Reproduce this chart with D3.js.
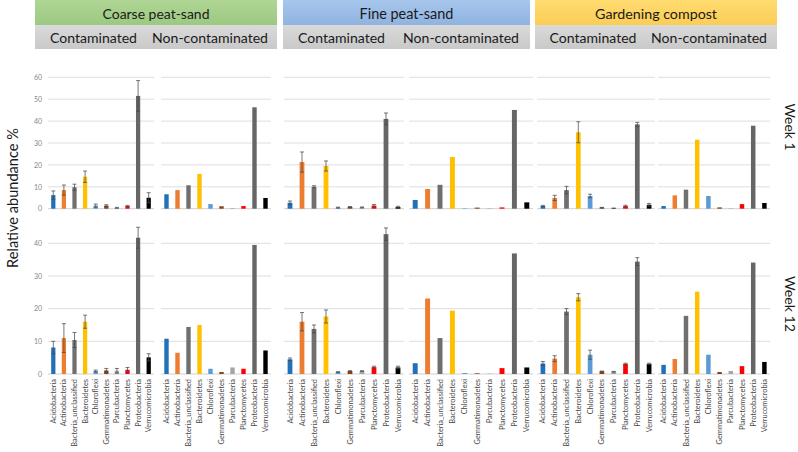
<!DOCTYPE html>
<html><head><meta charset="utf-8">
<script src="https://cdn.jsdelivr.net/npm/d3@7"></script>
<style>body{margin:0;background:#fff}svg{display:block;font-family:Lato,"Open Sans",sans-serif}</style>
</head><body>
<svg id="c" width="798" height="452"></svg>
<script>
// ---------- data ----------
const phyla = ["Acidobacteria","Actinobacteria","Bacteria_unclassified","Bacteroidetes","Chloroflexi","Gemmatimonadetes","Parcubacteria","Planctomycetes","Proteobacteria","Verrucomicrobia"];
const phylumColors = ["#2271b8","#ed7d31","#6f6f6f","#ffc000","#5b9bd5","#8a3f12","#a5a5a5","#ff0000","#666666","#000000"];
const soils = ["Coarse peat-sand","Fine peat-sand","Gardening compost"];
const treatments = ["Contaminated","Non-contaminated"];
const weeks = ["Week 1","Week 12"];
const week1Ticks = [0,10,20,30,40,50,60];
const week12Ticks = [0,10,20,30,40];

// Week 1
const w1CoarseCont    = [6.2, 8.5, 9.8, 14.6, 1.4, 1.4, 0.4, 1.2, 51.5, 5.0];
const w1CoarseContErr = [1.9, 2.3, 1.4, 2.6, 0.7, 0.4, 0.2, 0.3, 7.0, 2.3];
const w1CoarseNon     = [6.6, 8.5, 10.7, 15.9, 2.1, 1.1, 0.3, 1.2, 46.3, 4.9];
const w1FineCont      = [2.7, 21.3, 10.0, 19.5, 0.5, 0.8, 0.6, 1.4, 41.0, 0.8];
const w1FineContErr   = [0.8, 4.6, 0.5, 2.3, 0.2, 0.2, 0.2, 0.5, 2.7, 0.3];
const w1FineNon       = [4.0, 9.0, 10.9, 23.6, 0.2, 0.5, 0.2, 0.6, 45.1, 2.9];
const w1GardCont      = [1.2, 4.9, 8.5, 34.9, 5.8, 0.5, 0.2, 1.2, 38.5, 1.8];
const w1GardContErr   = [0.3, 1.2, 1.7, 4.8, 0.8, 0.1, 0.1, 0.4, 0.9, 0.6];
const w1GardNon       = [1.2, 6.1, 8.7, 31.5, 5.8, 0.6, 0.2, 2.1, 37.9, 2.6];
// Week 12
const w12CoarseCont    = [8.1, 11.0, 10.4, 16.0, 0.9, 1.1, 1.0, 1.3, 41.7, 5.1];
const w12CoarseContErr = [1.9, 4.4, 2.3, 2.0, 0.3, 0.6, 0.7, 0.7, 3.2, 1.1];
const w12CoarseNon     = [10.8, 6.5, 14.4, 15.0, 1.6, 0.6, 2.0, 1.6, 39.5, 7.2];
const w12FineCont      = [4.5, 16.0, 13.8, 17.6, 0.6, 0.9, 0.9, 2.1, 42.8, 2.0];
const w12FineContErr   = [0.4, 2.8, 1.2, 2.0, 0.1, 0.1, 0.1, 0.3, 1.9, 0.4];
const w12FineNon       = [3.3, 23.1, 11.0, 19.4, 0.3, 0.2, 0.1, 1.8, 36.9, 2.0];
const w12GardCont      = [3.2, 4.7, 19.1, 23.5, 5.9, 0.8, 0.7, 3.1, 34.4, 3.1];
const w12GardContErr   = [0.6, 0.9, 0.9, 1.1, 1.4, 0.1, 0.1, 0.2, 1.2, 0.2];
const w12GardNon       = [2.8, 4.6, 17.8, 25.2, 5.9, 0.6, 0.9, 2.4, 34.1, 3.7];

// ---------- layout ----------
const svg = d3.select("#c");
function fitText(sel, target) {
  sel.each(function(){
    const fs = parseFloat(d3.select(this).attr("font-size"));
    const w = this.getComputedTextLength();
    if (w > 0) d3.select(this).attr("font-size", (fs*target/w).toFixed(2));
  });
}
const panelX = [[48,154],[161,271],[284,404],[409,533],[537,655],[658,770]];
const rows = [
  {ticks: week1Ticks, domain:[0,60], range:[208.7,77.3],
   panels:[[w1CoarseCont,w1CoarseContErr],[w1CoarseNon,null],[w1FineCont,w1FineContErr],[w1FineNon,null],[w1GardCont,w1GardContErr],[w1GardNon,null]]},
  {ticks: week12Ticks, domain:[0,40], range:[374,243.3],
   panels:[[w12CoarseCont,w12CoarseContErr],[w12CoarseNon,null],[w12FineCont,w12FineContErr],[w12FineNon,null],[w12GardCont,w12GardContErr],[w12GardNon,null]]}
];

const headerBoxes = [[35,277,"#afd595","#9cc981"],[283,530,"#a7c6ec","#8fb3e0"],[535,777,"#ffdb70","#fbcd55"]];
const defs = svg.append("defs");
headerBoxes.forEach((b,i)=>{
  const g = defs.append("linearGradient").attr("id","hg"+i).attr("x1",0).attr("x2",0).attr("y1",0).attr("y2",1);
  g.append("stop").attr("offset","0%").attr("stop-color",b[2]);
  g.append("stop").attr("offset","100%").attr("stop-color",b[3]);
});
const gg = defs.append("linearGradient").attr("id","gg").attr("x1",0).attr("x2",0).attr("y1",0).attr("y2",1);
gg.append("stop").attr("offset","0%").attr("stop-color","#dadada");
gg.append("stop").attr("offset","100%").attr("stop-color","#c9c9c9");

const subCenters = [[93.5,210],[341.5,461],[593,709]];
const soilWidths = [107, 94, 122];
headerBoxes.forEach((b,i)=>{
  svg.append("rect").attr("x",b[0]).attr("y",0).attr("width",b[1]-b[0]).attr("height",25).attr("fill",`url(#hg${i})`);
  svg.append("rect").attr("x",b[0]).attr("y",25).attr("width",b[1]-b[0]).attr("height",24).attr("fill","url(#gg)");
  svg.append("text").attr("x",(b[0]+b[1])/2).attr("y",13).attr("text-anchor","middle").attr("dominant-baseline","central")
    .attr("font-size",14).attr("fill","#1a1a1a").text(soils[i]).call(fitText, soilWidths[i]);
  treatments.forEach((t,j)=>{
    svg.append("text").attr("x",subCenters[i][j]).attr("y",37).attr("text-anchor","middle").attr("dominant-baseline","central")
      .attr("font-size",14).attr("fill","#1a1a1a").text(t).call(fitText, j===0 ? 87 : 116);
  });
});

rows.forEach((row,ri)=>{
  const y = d3.scaleLinear().domain(row.domain).range(row.range);
  row.panels.forEach((p,pi)=>{
    const x = d3.scaleBand().domain(phyla).range(panelX[pi]).paddingInner(0.6).paddingOuter(0.3);
    const g = svg.append("g");
    g.selectAll("line.grid").data(row.ticks).join("line")
      .attr("x1",panelX[pi][0]).attr("x2",panelX[pi][1])
      .attr("y1",d=>y(d)).attr("y2",d=>y(d))
      .attr("stroke",(d)=> d===0 ? "#d0d0d0" : "#dedede").attr("stroke-width",1);
    const vals = p[0], errs = p[1];
    g.selectAll("rect.bar").data(phyla).join("rect")
      .attr("x",d=>x(d)).attr("width",x.bandwidth())
      .attr("y",(d,i)=>y(vals[i])).attr("height",(d,i)=>y(0)-y(vals[i]))
      .attr("fill",(d,i)=>phylumColors[i]);
    if (errs) {
      const eg = g.append("g").attr("stroke","#4a4a4a").attr("stroke-opacity",0.75).attr("stroke-width",1);
      phyla.forEach((d,i)=>{
        const cx = x(d)+x.bandwidth()/2;
        const lo = y(Math.max(0,vals[i]-errs[i])), hi = y(vals[i]+errs[i]);
        eg.append("line").attr("x1",cx).attr("x2",cx).attr("y1",lo).attr("y2",hi);
        eg.append("line").attr("x1",cx-2).attr("x2",cx+2).attr("y1",hi).attr("y2",hi);
        eg.append("line").attr("x1",cx-2).attr("x2",cx+2).attr("y1",lo).attr("y2",lo);
      });
    }
    if (pi===0) {
      const ax = d3.axisLeft(y).tickValues(row.ticks).tickSize(0).tickPadding(0);
      const a = svg.append("g").attr("transform",`translate(42,0)`).call(ax);
      a.select(".domain").remove();
      a.selectAll("text").attr("font-size",7).attr("fill","#888").attr("font-family","Lato, sans-serif");
    }
    if (ri===1) {
      const ax = d3.axisBottom(x).tickSize(0).tickPadding(0);
      const a = svg.append("g").attr("transform",`translate(0,${y(0)})`).call(ax);
      a.select(".domain").remove();
      a.selectAll("text").attr("font-size",7.4).attr("fill","#474747").attr("font-family","Lato, sans-serif")
        .attr("text-anchor","end").attr("dy",null).attr("y",null)
        .attr("dominant-baseline","central")
        .attr("transform","translate(0,5) rotate(-90)");
    }
  });
});

svg.append("text").attr("transform","translate(12,198) rotate(-90)").attr("text-anchor","middle")
  .attr("dominant-baseline","central").attr("font-size",15).attr("fill","#1a1a1a").text("Relative abundance %").call(fitText, 140);
const weekCenters = [127, 304];
weeks.forEach((w,i)=>{
  svg.append("text").attr("transform",`translate(790,${weekCenters[i]}) rotate(90)`).attr("text-anchor","middle")
    .attr("dominant-baseline","central").attr("font-size",15).attr("fill","#1a1a1a").text(w).call(fitText, i===0 ? 47 : 56);
});
</script>
</body></html>
